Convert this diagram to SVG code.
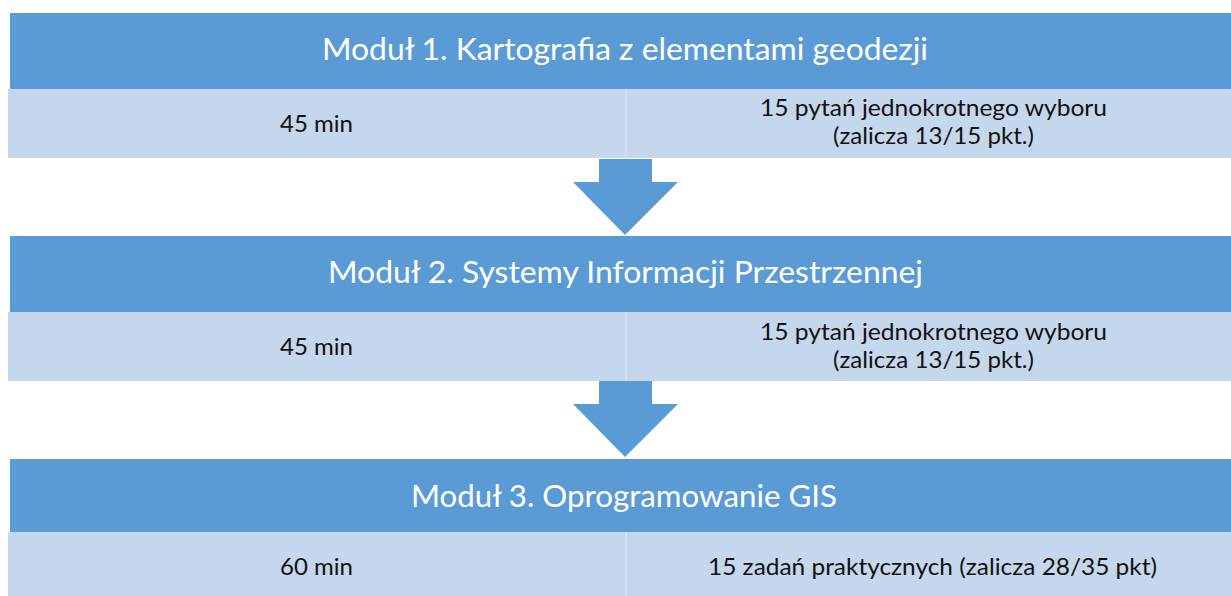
<svg xmlns="http://www.w3.org/2000/svg" width="1231" height="596" viewBox="0 0 1231 596">
<style>
.hdr{fill:#5B9BD5}
.row{fill:#C5D7ED}
.div{stroke:#D3E0F1;stroke-width:2}
.arrow{fill:#5B9BD5}
.title{font-family:Lato,"Open Sans",sans-serif;font-size:31px;fill:#FFFFFF;text-anchor:start}
.body{font-family:Lato,"Open Sans",sans-serif;font-size:24px;fill:#111111;text-anchor:start}
</style>
<rect width="1231" height="596" fill="#FFFFFF"/>
<g id="modul1">
<rect class="hdr" x="10" y="13" width="1221" height="76"/>
<text class="title" x="322" y="60" textLength="606" lengthAdjust="spacingAndGlyphs">Moduł 1. Kartografia z elementami geodezji</text>
<rect class="row" x="8" y="89" width="1223" height="69"/>
<line class="div" x1="626" y1="89" x2="626" y2="158"/>
<text class="body" x="280" y="132" textLength="73" lengthAdjust="spacingAndGlyphs">45 min</text>
<text class="body" x="760" y="116" textLength="347" lengthAdjust="spacingAndGlyphs">15 pytań jednokrotnego wyboru</text>
<text class="body" x="833" y="144" textLength="201" lengthAdjust="spacingAndGlyphs">(zalicza 13/15 pkt.)</text>
</g>
<g id="modul2">
<rect class="hdr" x="10" y="236" width="1221" height="76"/>
<text class="title" x="328" y="283" textLength="595" lengthAdjust="spacingAndGlyphs">Moduł 2. Systemy Informacji Przestrzennej</text>
<rect class="row" x="8" y="312" width="1223" height="69"/>
<line class="div" x1="626" y1="312" x2="626" y2="381"/>
<text class="body" x="280" y="355" textLength="73" lengthAdjust="spacingAndGlyphs">45 min</text>
<text class="body" x="760" y="340" textLength="347" lengthAdjust="spacingAndGlyphs">15 pytań jednokrotnego wyboru</text>
<text class="body" x="833" y="368" textLength="201" lengthAdjust="spacingAndGlyphs">(zalicza 13/15 pkt.)</text>
</g>
<g id="modul3">
<rect class="hdr" x="10" y="459" width="1221" height="73"/>
<text class="title" x="411" y="507" textLength="426" lengthAdjust="spacingAndGlyphs">Moduł 3. Oprogramowanie GIS</text>
<rect class="row" x="8" y="532" width="1223" height="64"/>
<line class="div" x1="626" y1="532" x2="626" y2="596"/>
<text class="body" x="280" y="575" textLength="73" lengthAdjust="spacingAndGlyphs">60 min</text>
<text class="body" x="708" y="575" textLength="449" lengthAdjust="spacingAndGlyphs">15 zadań praktycznych (zalicza 28/35 pkt)</text>
</g>
<g id="connectors">
<polygon class="arrow" points="599,159 652,159 652,182 678,182 625,235 573,182 599,182"/>
<polygon class="arrow" points="599,381 652,381 652,404 678,404 625,457 573,404 599,404"/>
</g>
</svg>
